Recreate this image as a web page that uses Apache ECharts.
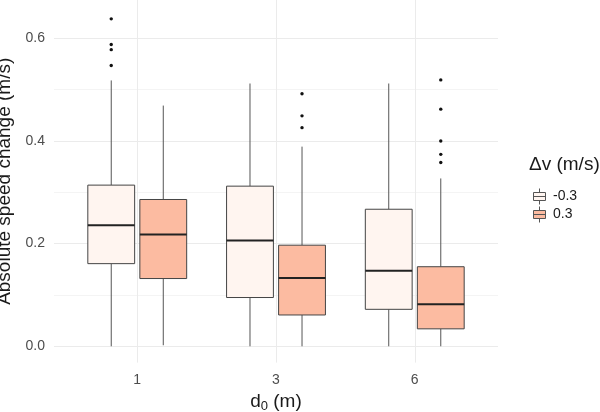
<!DOCTYPE html>
<html>
<head>
<meta charset="utf-8">
<script src="https://cdn.jsdelivr.net/npm/echarts@6/dist/echarts.min.js"></script>
<style>
  html, body { margin: 0; padding: 0; background: #fff; }
  #chart { width: 600px; height: 412px; }
</style>
</head>
<body>
<div id="chart"></div>
<script>
// d0 categories and dv groups
const categories = ["1", "3", "6"]
const groups = ["-0.3", "0.3"]
const groupColors = ["#FFF5F0", "#FCBBA1"]

// [min, q1, median, q3, max] per category
const boxNeg = [
  [0.000, 0.161, 0.236, 0.314, 0.518],
  [0.000, 0.095, 0.206, 0.312, 0.512],
  [0.000, 0.072, 0.147, 0.267, 0.512]
]
const boxPos = [
  [0.002, 0.132, 0.218, 0.286, 0.469],
  [0.000, 0.061, 0.133, 0.197, 0.389],
  [0.000, 0.034, 0.082, 0.155, 0.327]
]

// outliers: [category index, value]
const outNeg = [[0, 0.638], [0, 0.588], [0, 0.578], [0, 0.547]]
const outPos = [
  [1, 0.492], [1, 0.449], [1, 0.426],
  [2, 0.519], [2, 0.462], [2, 0.400], [2, 0.374], [2, 0.358]
]

const yTicks = [0, 0.2, 0.4, 0.6]
const yGrid = [0, 0.1, 0.2, 0.3, 0.4, 0.5, 0.6]

const FONT = "'Liberation Sans', Arial, sans-serif"
const DODGE = [-0.1875, 0.1875]
const BOX_W = 0.3375

const chart = echarts.init(document.getElementById("chart"))

function boxSeries (name, rows, gi) {
  return {
    name: name,
    type: "custom",
    itemStyle: { color: groupColors[gi], borderColor: "#333" },
    encode: { x: 0, y: [1, 2, 3, 4, 5] },
    data: rows.map((r, i) => [i].concat(r)),
    renderItem: (params, api) => {
      const x = api.value(0) + DODGE[gi]
      const w = api.size([BOX_W, 0])[0]
      const pMin = api.coord([x, api.value(1)])
      const pQ1 = api.coord([x, api.value(2)])
      const pMed = api.coord([x, api.value(3)])
      const pQ3 = api.coord([x, api.value(4)])
      const pMax = api.coord([x, api.value(5)])
      const cx = pMed[0]
      const line = { stroke: "#555", lineWidth: 1 }
      return {
        type: "group",
        children: [
          { type: "line", shape: { x1: cx, y1: pMin[1], x2: cx, y2: pQ1[1] }, style: line },
          { type: "line", shape: { x1: cx, y1: pQ3[1], x2: cx, y2: pMax[1] }, style: line },
          {
            type: "rect",
            shape: { x: cx - w / 2, y: pQ3[1], width: w, height: pQ1[1] - pQ3[1] },
            style: { fill: groupColors[gi], stroke: "#444", lineWidth: 1 }
          },
          {
            type: "line",
            shape: { x1: cx - w / 2, y1: pMed[1], x2: cx + w / 2, y2: pMed[1] },
            style: { stroke: "#222", lineWidth: 2 }
          }
        ]
      }
    }
  }
}

function outlierSeries (name, rows, gi) {
  return {
    name: name,
    type: "custom",
    encode: { x: 0, y: 1 },
    data: rows,
    renderItem: (params, api) => {
      const p = api.coord([api.value(0) + DODGE[gi], api.value(1)])
      return {
        type: "circle",
        shape: { cx: p[0], cy: p[1], r: 1.7 },
        style: { fill: "#111" }
      }
    }
  }
}

const legendIcon = "path://M6,0L6,4M0,4L12,4L12,12L0,12ZM0,8L12,8M6,12L6,16"

const option = {
  backgroundColor: "#fff",
  animation: false,
  textStyle: { fontFamily: FONT },
  title: {
    text: "Δv (m/s)",
    left: 524,
    top: 150,
    textStyle: { fontFamily: FONT, fontSize: 19, fontWeight: "normal", color: "#1a1a1a" }
  },
  legend: {
    orient: "vertical",
    left: 528,
    top: 183,
    itemWidth: 13,
    itemHeight: 16,
    itemGap: 1,
    textStyle: { fontFamily: FONT, fontSize: 14, color: "#1a1a1a", padding: [0, 0, 0, 2] },
    data: groups.map((g, i) => ({
      name: g,
      icon: legendIcon,
      itemStyle: { color: groupColors[i], borderColor: "#555", borderWidth: 1 }
    }))
  },
  grid: {
    left: 54,
    right: 102,
    top: 0,
    bottom: 49.4,
    outerBoundsMode: "none"
  },
  xAxis: {
    type: "value",
    min: -0.6,
    max: 2.6,
    name: "d{sub|0} (m)",
    nameLocation: "middle",
    nameGap: 28,
    nameTextStyle: {
      fontFamily: FONT,
      fontSize: 19,
      color: "#1a1a1a",
      rich: {
        sub: { fontFamily: FONT, fontSize: 13, verticalAlign: "bottom", padding: [8, 0, 0, 0], color: "#1a1a1a" }
      }
    },
    axisLine: { show: false },
    axisTick: { show: false, customValues: [0, 1, 2] },
    axisLabel: {
      customValues: [0, 1, 2],
      formatter: (v) => categories[Math.round(v)],
      fontFamily: FONT,
      fontSize: 14,
      color: "#4D4D4D",
      margin: 11
    },
    splitLine: { show: true, lineStyle: { color: "#EBEBEB", width: 1 } }
  },
  yAxis: {
    type: "value",
    min: -0.0318,
    max: 0.6747,
    name: "Absolute speed change (m/s)",
    nameLocation: "middle",
    nameGap: 29,
    nameTextStyle: { fontFamily: FONT, fontSize: 19, color: "#1a1a1a" },
    axisLine: { show: false },
    axisTick: { show: false, customValues: yGrid },
    axisLabel: {
      customValues: yTicks,
      formatter: (v) => v.toFixed(1),
      fontFamily: FONT,
      fontSize: 14,
      color: "#4D4D4D",
      margin: 9
    },
    splitLine: { show: true, lineStyle: { color: ["#EBEBEB", "#F4F4F4"], width: 1 } }
  },
  series: [
    boxSeries(groups[0], boxNeg, 0),
    boxSeries(groups[1], boxPos, 1),
    outlierSeries(groups[0], outNeg, 0),
    outlierSeries(groups[1], outPos, 1)
  ]
}

chart.setOption(option)
</script>
</body>
</html>
